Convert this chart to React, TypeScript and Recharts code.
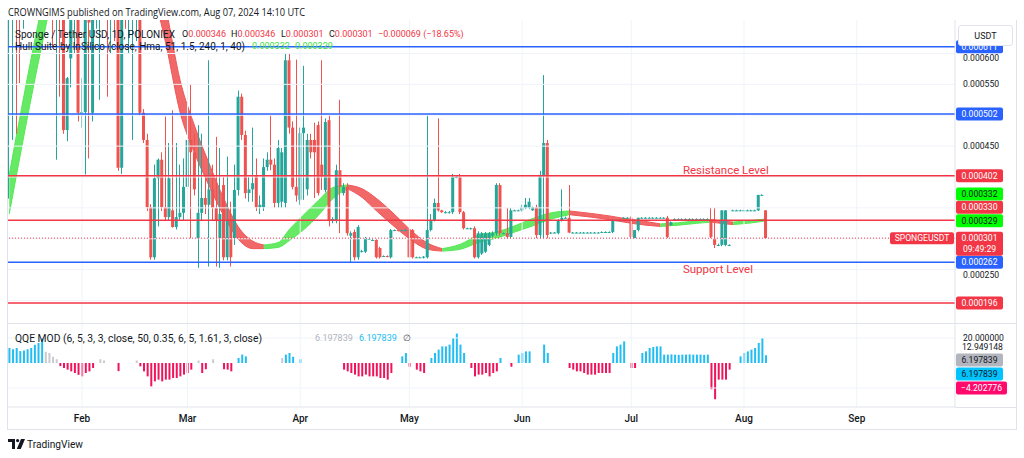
import React from 'react';
import { ComposedChart, Bar, Area, XAxis, YAxis, ReferenceLine, ReferenceDot, Cell } from 'recharts';

// day index counted from Jan 1 2024 (= 0); first candle on screen is Jan 11
const firstDay = 11;

// daily candles in micro-USDT: [open, high, low, close]
const ohlc: number[][] = [
  // Jan 11 - 20
  [690, 720, 365, 700], [700, 730, 460, 715], [715, 725, 470, 690], [690, 700, 552, 670], [670, 700, 640, 690],
  [690, 760, 660, 740], [740, 790, 700, 770], [770, 820, 730, 800], [800, 830, 740, 760], [760, 800, 700, 780],
  // Jan 21 - 30
  [780, 800, 690, 720], [720, 760, 660, 740], [740, 760, 610, 700], [700, 740, 428, 720], [720, 740, 530, 690],
  [690, 700, 470, 476], [476, 562, 458, 560], [592, 720, 545, 690], [690, 720, 600, 700], [700, 720, 490, 504],
  // Jan 31 - Feb 9
  [504, 560, 480, 505], [505, 720, 404, 700], [690, 720, 430, 650], [504, 720, 490, 700], [700, 740, 640, 720],
  [680, 720, 525, 700], [700, 740, 660, 690], [690, 720, 530, 660], [660, 720, 600, 700], [700, 740, 620, 690],
  // Feb 10 - 19
  [690, 720, 410, 415], [415, 720, 405, 700], [700, 730, 640, 680], [680, 720, 600, 700], [680, 720, 460, 700],
  [700, 730, 620, 710], [710, 720, 500, 504], [504, 510, 455, 460], [460, 470, 345, 351], [351, 356, 266, 270],
  // Feb 20 - 29
  [270, 420, 266, 398], [398, 430, 320, 428], [428, 440, 345, 351], [351, 498, 330, 335], [335, 455, 330, 398],
  [346, 508, 318, 319], [319, 455, 315, 335], [335, 420, 330, 342], [342, 430, 330, 384], [384, 557, 340, 460],
  // Mar 1 - 10
  [460, 550, 300, 440], [440, 470, 370, 380], [300, 484, 253, 342], [342, 470, 330, 366], [366, 400, 340, 355],
  [355, 589, 255, 380], [380, 420, 330, 350], [350, 465, 255, 330], [300, 447, 253, 340], [387, 400, 265, 270],
  // Mar 11 - 20
  [270, 433, 265, 330], [330, 360, 255, 270], [301, 420, 290, 379], [379, 540, 370, 530], [530, 535, 460, 468],
  [468, 475, 365, 374], [374, 400, 360, 380], [380, 480, 360, 390], [403, 430, 345, 351], [351, 370, 340, 355],
  // Mar 21 - 30
  [351, 430, 345, 416], [416, 440, 410, 428], [428, 500, 411, 420], [420, 430, 350, 358], [358, 460, 350, 447],
  [360, 447, 350, 440], [358, 600, 350, 589], [589, 600, 470, 480], [480, 490, 380, 384], [384, 590, 360, 370],
  // Mar 31 - Apr 9
  [363, 480, 355, 471], [471, 580, 363, 480], [380, 470, 370, 460], [460, 470, 430, 440], [460, 488, 366, 440],
  [484, 490, 370, 374], [420, 589, 379, 400], [379, 495, 375, 489], [492, 500, 320, 330], [330, 335, 325, 332],
  // Apr 10 - 19
  [330, 420, 325, 411], [411, 525, 309, 384], [374, 390, 370, 384], [384, 390, 305, 309], [305, 312, 261, 309],
  [311, 315, 265, 270], [270, 322, 266, 319], [279, 282, 278, 280], [279, 303, 277, 301], [300, 302, 299, 300],
  // Apr 20 - 29
  [298, 300, 297, 298], [298, 300, 268, 270], [285, 287, 268, 270], [272, 273, 271, 272], [272, 273, 270, 271],
  [270, 316, 268, 314], [314, 315, 313, 314], [314, 315, 312, 313], [313, 315, 312, 314], [314, 316, 312, 314],
  // Apr 30 - May 9
  [314, 316, 268, 270], [314, 316, 268, 270], [270, 271, 269, 270], [270, 271, 269, 270], [270, 272, 268, 271],
  [270, 500, 268, 314], [314, 340, 312, 330], [330, 365, 328, 358], [358, 495, 344, 346], [346, 347, 342, 343],
  // May 10 - 19
  [343, 345, 341, 343], [343, 345, 341, 343], [343, 405, 340, 400], [400, 402, 398, 400], [400, 405, 340, 343],
  [343, 345, 315, 317], [317, 318, 316, 317], [317, 318, 315, 317], [317, 320, 268, 270], [270, 312, 268, 309],
  // May 20 - 29
  [276, 311, 274, 309], [279, 311, 277, 309], [290, 311, 288, 309], [305, 312, 303, 309], [309, 390, 305, 387],
  [387, 390, 305, 309], [309, 310, 308, 309], [309, 350, 300, 303], [303, 350, 300, 346], [346, 347, 345, 346],
  // May 30 - Jun 8
  [346, 347, 345, 346], [346, 355, 344, 351], [350, 366, 348, 355], [350, 366, 348, 360], [346, 352, 345, 351],
  [351, 355, 300, 306], [306, 410, 300, 403], [403, 565, 300, 455], [455, 460, 300, 306], [309, 311, 308, 310],
  // Jun 9 - 18
  [310, 311, 309, 310], [309, 332, 307, 330], [330, 380, 328, 334], [334, 336, 333, 334], [334, 387, 309, 310],
  [310, 311, 309, 310], [310, 311, 309, 310], [310, 311, 309, 310], [310, 311, 309, 310], [310, 311, 309, 310],
  // Jun 19 - 28
  [310, 311, 309, 310], [310, 311, 309, 310], [310, 311, 309, 310], [311, 312, 310, 311], [311, 312, 310, 311],
  [311, 312, 310, 311], [311, 332, 309, 330], [330, 331, 329, 330], [330, 331, 329, 330], [334, 335, 333, 334],
  // Jun 29 - Jul 8
  [334, 335, 333, 334], [334, 336, 301, 303], [301, 314, 300, 314], [314, 334, 312, 334], [334, 335, 333, 334],
  [334, 335, 333, 334], [334, 335, 333, 334], [334, 335, 333, 334], [334, 335, 333, 334], [334, 335, 333, 334],
  // Jul 9 - 18
  [334, 335, 333, 334], [334, 337, 301, 303], [322, 328, 321, 327], [332, 333, 331, 332], [332, 333, 331, 332],
  [332, 333, 331, 332], [332, 333, 331, 332], [332, 333, 331, 332], [332, 333, 331, 332], [332, 333, 331, 332],
  // Jul 19 - 28
  [332, 333, 331, 332], [332, 333, 331, 332], [332, 333, 331, 332], [330, 350, 301, 303], [301, 350, 285, 290],
  [290, 292, 288, 290], [290, 346, 288, 346], [290, 346, 288, 346], [290, 291, 289, 290], [346, 347, 345, 346],
  // Jul 29 - Aug 7
  [346, 347, 345, 346], [346, 347, 345, 346], [346, 347, 345, 346], [346, 347, 345, 346], [346, 347, 345, 346],
  [346, 347, 345, 346], [346, 371, 345, 371], [371, 372, 370, 371], [346, 346, 301, 301],
];

// QQE MOD histogram, one value per day (null = no visible bar)
const qqeValues: (number | null)[] = [
  12, 11, 12, 9.5, 10, 11, 12, 14.5, 16, 20,
  9, 8, 5, 3, -2.5, -4, -5.3, -6.7, -8, -9.5,
  -10.7, -8, -6.7, -4, null, 3, 2, null, null, null,
  -6.5, null, null, null, null, 2, -2.7, -6.7, -10.7, -18.7,
  -14.7, -13.3, -14.7, -13.3, -13.3, -12, -12, -10.7, -9.3, -8,
  -5.3, null, 2, -8, -5, null, 3, null, null, -5,
  -5.3, -6.7, null, 4, 6.7, 5.3, null, null, null, null,
  null, null, null, null, null, 4, 6.7, 8, 5, null,
  3, null, null, null, null, null, null, null, null, null,
  null, null, -5.3, -6.7, -8, -9.3, -10.7, -10.7, -9.3, -10.7,
  -10.7, -10.7, -12, -12, -13.3, -8, null, null, 5.3, 8,
  -3, null, -5.3, -6.7, -8, null, 4, 8, 10.7, 13.3,
  13.3, 14.7, 20, 23.5, 14.7, 8, null, -4, -10.7, -9.3,
  -9.3, -8, -10.7, -8, -6.7, 4, null, null, -3, null,
  6.7, 8, 9.3, 9.3, null, null, null, 14.7, 8, null,
  null, null, null, null, -4, -5.3, -6.7, -6.7, -8, -9.3,
  -9.3, -9.3, -8, -8, -8, -8, 8, 13.3, 14.7, 17.3,
  null, -4, -4, null, 8, 9.3, 12, 12.8, 13.3, 13.3,
  6.7, 6.7, 6.9, 6.7, 6.5, 6.7, 6.7, 6.9, 6.7, 6.7,
  6.7, 6.5, 6.7, -21, -29, -13.3, -13.3, -13.3, -5.3, null,
  null, 5.3, 8, 9.3, 10.7, 12, 16, 20, 6.2,
];

// b = above threshold (blue), r = below (pink), g = neutral (gray)
const qqeTones = [
  'bbbbbbbbbb', 'ggggrrrrrr', 'rrrr.gg...', 'r....grrrr', 'rrrrrrrrrr',
  'r.grr.g..r', 'rr.bbb....', '.....gbbb.', 'b.........', '..rrrrrrrr',
  'rrrrrr..bb', 'r.rrr.bbbb', 'bbbbbb.rrr', 'rrrrrb..r.', 'bbbb...bb.',
  '....rrrrrr', 'rrrrrrbbbb', '.rr.bbbbbb', 'bbbbbbbbbb', 'bbbrrrrrr.',
  '.bbbbbbbb',
].join('');

// Hull Suite ribbon (HMA and HMA[2]) read at knot days, micro-USDT
const hullDays = [11, 20, 28, 36, 44, 54, 58, 62, 66, 70, 74, 78, 81, 85, 88, 92, 96, 100, 104, 108, 112, 117, 121, 126, 130, 135, 140, 145, 150, 155, 160, 165, 171, 176, 181, 186, 190, 195, 200, 204, 208, 210, 214, 219];
const hullLow = [340, 614, 820, 875, 820, 617, 504, 438, 385, 337, 299, 284, 284, 286, 297, 315, 338, 365, 381, 367, 345, 319, 300, 283, 280, 283, 294, 301, 311, 321, 332, 339, 335, 331, 326, 322, 320, 322, 325, 327, 324, 323, 325, 329];
const hullHigh = [404, 678, 880, 925, 880, 675, 556, 482, 421, 365, 319, 296, 290, 294, 315, 339, 362, 383, 387, 381, 365, 339, 316, 293, 284, 291, 306, 311, 321, 333, 342, 345, 341, 337, 332, 328, 324, 326, 329, 331, 328, 327, 329, 332];

const monthDays = [31, 60, 91, 121, 152, 182, 213, 244];
const monthNames = ['Feb', 'Mar', 'Apr', 'May', 'Jun', 'Jul', 'Aug', 'Sep'];
const priceTicks = [0.0006, 0.00055, 0.0005, 0.00045, 0.0004, 0.00035, 0.0003, 0.00025, 0.0002];
// tick labels that sit under a price tag are not drawn; two peek out below their tags
const hiddenTicks = [0.0005, 0.0004, 0.00035, 0.0003, 0.0002];
const peekTicks = [0.0006, 0.00025];

// horizontal levels drawn on the chart
const levelPrices = [0.000611, 0.000502, 0.000402, 0.00033, 0.000262, 0.000196];
const levelColors = ['#2962ff', '#2962ff', '#f23645', '#f23645', '#2962ff', '#f23645'];
const levelTagShift = [0, 0, 0, -13, 0, 0];

const hullLast = [0.000332, 0.000329];
const lastPrice = 0.000301;
const resistanceAnchor = [196.2, 0.000411];
const supportAnchor = [196.2, 0.000251];

const qqeLast = 6.197839;
const qqeSignal = -4.202776;
const qqeUpper = 12.949148;

const VIEW: [number, number] = [10.66, 271];
const UP = '#26a69a';
const DOWN = '#ef5350';
const GRID = '#f0f3fa';
const BORDER = '#e0e3eb';
const INK = '#131722';
const TONE: Record<string, string> = { b: '#22bdf2', r: '#f0145c', g: '#c9cacf' };

const candleRows = ohlc.map(([o, h, l, c], i) => ({
  day: firstDay + i,
  open: o / 1e6,
  high: h / 1e6,
  low: l / 1e6,
  close: c / 1e6,
  range: [l / 1e6, h / 1e6],
}));

const qqeRows = qqeValues.map((v, i) => ({ day: firstDay + i, qqe: v, tone: qqeTones[i] }));

const hullSegments = (() => {
  const segs: { up: boolean; rows: { day: number; band: number[] }[] }[] = [];
  const row = (i: number) => ({ day: hullDays[i], band: [hullLow[i] / 1e6, hullHigh[i] / 1e6] });
  for (let i = 1; i < hullDays.length; i++) {
    const up = hullLow[i] + hullHigh[i] > hullLow[i - 1] + hullHigh[i - 1];
    const last = segs[segs.length - 1];
    if (last && last.up === up) last.rows.push(row(i));
    else segs.push({ up, rows: [row(i - 1), row(i)] });
  }
  return segs;
})();

const Candle = (props: any) => {
  const { x, y, width, height, payload } = props;
  if (!payload || x == null || y == null) return null;
  const top = Math.min(y, y + height);
  const h = Math.abs(height);
  const span = payload.high - payload.low || 1e-9;
  const px = (v: number) => top + ((payload.high - v) / span) * h;
  const color = payload.close >= payload.open ? UP : DOWN;
  const cx = Math.floor(x + width / 2) + 0.5;
  const b1 = px(Math.max(payload.open, payload.close));
  const b2 = px(Math.min(payload.open, payload.close));
  return (
    <g>
      <line x1={cx} x2={cx} y1={top} y2={top + h} stroke={color} strokeWidth={1} />
      <rect x={x} y={b1} width={width} height={Math.max(1, b2 - b1)} fill={color} />
    </g>
  );
};

const PriceTick = (props: any) => {
  const v = props.payload?.value;
  if (v == null || hiddenTicks.some((t) => Math.abs(t - v) < 1e-9)) return null;
  const shift = peekTicks.some((t) => Math.abs(t - v) < 1e-9) ? 5 : 0;
  return (
    <text x={props.x} y={props.y + shift} dy="0.35em" fontSize={8.6} fill={INK}>
      {v.toFixed(6)}
    </text>
  );
};

const tag = (text: string, bg: string, fg: string, dy = 0, w = 47, second?: string) => (props: any) => {
  const vb = props.viewBox;
  if (!vb) return null;
  const x = vb.x + vb.width + 1;
  const cy = vb.y + dy;
  return (
    <g>
      <rect x={x} y={cy - 6.5} width={w} height={second ? 24 : 13} rx={2} fill={bg} />
      <text x={x + w / 2} y={cy} dy="0.35em" textAnchor="middle" fontSize={8.6} fill={fg}>{text}</text>
      {second && (
        <text x={x + w / 2} y={cy + 11} dy="0.35em" textAnchor="middle" fontSize={8.6} fill={fg}>{second}</text>
      )}
    </g>
  );
};

const symbolTag = (props: any) => {
  const vb = props.viewBox;
  if (!vb) return null;
  const x = vb.x + vb.width - 65;
  return (
    <g>
      <rect x={x} y={vb.y - 6} width={64} height={12} rx={2} fill="#f23645" />
      <text x={x + 32} y={vb.y} dy="0.35em" textAnchor="middle" fontSize={8.6} fill="#fff">SPONGEUSDT</text>
    </g>
  );
};

const plainText = (text: string) => (props: any) => {
  const vb = props.viewBox;
  if (!vb) return null;
  return (
    <text x={vb.x + vb.width + 7} y={vb.y} dy="0.35em" fontSize={8.6} fill={INK}>{text}</text>
  );
};

const drawingText = (text: string) => (props: any) => {
  const vb = props.viewBox;
  if (!vb) return null;
  return (
    <text x={vb.x + vb.width / 2} y={vb.y + vb.height / 2} dy="0.35em" fontSize={11.5} fill="#f23645">{text}</text>
  );
};

const RED = '#f23645';

export default function App() {
  return (
    <div style={{ position: 'absolute', left: 0, top: 0, width: 1024, height: 458, background: '#fff', overflow: 'hidden', fontFamily: 'Roboto, sans-serif' }}>
      <div style={{ position: 'absolute', left: 8, top: 20 }}>
        <ComposedChart width={1008} height={303} data={candleRows} margin={{ top: 0, right: 0, bottom: 0, left: 0 }}>
          <XAxis dataKey="day" type="number" domain={VIEW} allowDataOverflow hide />
          <YAxis
            orientation="right"
            width={61}
            domain={[0.0001636, 0.0006542]}
            allowDataOverflow
            ticks={priceTicks}
            tick={PriceTick}
            tickLine={false}
            axisLine={{ stroke: BORDER }}
          />
          {priceTicks.map((t) => (
            <ReferenceLine key={'h' + t} y={t} stroke={GRID} />
          ))}
          {monthDays.map((d) => (
            <ReferenceLine key={'v' + d} x={d} stroke={GRID} />
          ))}
          <Bar dataKey="range" barSize={3} shape={Candle} isAnimationActive={false} />
          {hullSegments.map((s, i) => (
            <Area
              key={'hull' + i}
              data={s.rows}
              dataKey="band"
              type="monotone"
              fill={s.up ? '#55e855' : '#f05858'}
              fillOpacity={0.9}
              stroke={s.up ? '#55e855' : '#f05858'}
              strokeWidth={1}
              isAnimationActive={false}
            />
          ))}
          <ReferenceLine y={lastPrice} stroke={RED} strokeDasharray="1 2" label={symbolTag} />
          {levelPrices.map((p, i) => (
            <ReferenceLine
              key={'lvl' + p}
              y={p}
              stroke={levelColors[i]}
              strokeWidth={1.6}
              label={tag(p.toFixed(6), levelColors[i], '#fff', levelTagShift[i])}
            />
          ))}
          <ReferenceLine y={hullLast[0]} stroke="none" label={tag(hullLast[0].toFixed(6), '#00ff00', INK, -25)} />
          <ReferenceLine y={hullLast[1]} stroke="none" label={tag(hullLast[1].toFixed(6), '#00ff00', INK, 0)} />
          <ReferenceLine y={lastPrice} stroke="none" label={tag(lastPrice.toFixed(6), RED, '#fff', 0, 47, '09:49:29')} />
          <ReferenceDot x={resistanceAnchor[0]} y={resistanceAnchor[1]} r={1} fill="none" stroke="none" label={drawingText('Resistance Level')} />
          <ReferenceDot x={supportAnchor[0]} y={supportAnchor[1]} r={1} fill="none" stroke="none" label={drawingText('Support Level')} />
        </ComposedChart>
      </div>

      <div style={{ position: 'absolute', left: 8, top: 324 }}>
        <ComposedChart width={1008} height={106} data={qqeRows} margin={{ top: 0, right: 0, bottom: 0, left: 0 }}>
          <XAxis
            dataKey="day"
            type="number"
            domain={VIEW}
            allowDataOverflow
            ticks={monthDays}
            interval={0}
            tickFormatter={(d: number) => monthNames[monthDays.indexOf(d)]}
            tick={{ fontSize: 10, fill: INK, fontWeight: 500 }}
            tickLine={false}
            axisLine={{ stroke: BORDER }}
            height={23}
          />
          <YAxis
            orientation="right"
            width={61}
            domain={[-35.2, 31.2]}
            allowDataOverflow
            ticks={[20]}
            tickFormatter={(v: number) => v.toFixed(6)}
            tick={{ fontSize: 8.6, fill: INK }}
            tickLine={false}
            axisLine={{ stroke: BORDER }}
          />
          {monthDays.map((d) => (
            <ReferenceLine key={'qv' + d} x={d} stroke={GRID} />
          ))}
          <ReferenceLine y={20} stroke={GRID} />
          <ReferenceLine y={-20} stroke={GRID} />
          <Bar dataKey="qqe" barSize={2} isAnimationActive={false}>
            {qqeRows.map((r) => (
              <Cell key={'c' + r.day} fill={TONE[r.tone] || 'transparent'} />
            ))}
          </Bar>
          <ReferenceLine y={qqeUpper} stroke="none" label={plainText(qqeUpper.toFixed(6))} />
          <ReferenceLine y={qqeLast} stroke="none" label={tag(qqeLast.toFixed(6), '#b2b5be', INK, 4.75)} />
          <ReferenceLine y={qqeLast} stroke="none" label={tag(qqeLast.toFixed(6), '#00c3ff', INK, 18.75)} />
          <ReferenceLine y={qqeSignal} stroke="none" label={tag('\u2212' + Math.abs(qqeSignal).toFixed(6), '#ff0a6c', '#fff', 19.75, 51)} />
        </ComposedChart>
      </div>

      {/* pane borders */}
      <div style={{ position: 'absolute', left: 7, top: 20, width: 1008, height: 409, borderLeft: `1px solid ${BORDER}`, borderRight: `1px solid ${BORDER}`, borderBottom: `1px solid ${BORDER}` }} />
      <div style={{ position: 'absolute', left: 8, top: 323, width: 1008, height: 1, background: BORDER }} />
      <div style={{ position: 'absolute', left: 955, top: 407, width: 61, height: 1, background: BORDER }} />

      <div style={{ position: 'absolute', left: 958, top: 25, width: 53, height: 19, border: `1px solid ${BORDER}`, borderRadius: 3, background: '#fff', fontSize: 9, color: INK, display: 'flex', alignItems: 'center', justifyContent: 'center' }}>
        USDT
      </div>

      {/* header, legends and branding */}
      <svg width={1024} height={458} style={{ position: 'absolute', left: 0, top: 0, pointerEvents: 'none' }}>
        <text x={8} y={12} dy="0.35em" fontSize={10} fill={INK} fontFamily='"Open Sans", sans-serif' textLength={297} lengthAdjust="spacingAndGlyphs">
          CROWNGIMS published on TradingView.com, Aug 07, 2024 14:10 UTC
        </text>

        <text x={15} y={34} dy="0.35em" fontSize={10} fill={INK} textLength={160} lengthAdjust="spacingAndGlyphs">
          Sponge / Tether USD, 1D, POLONIEX
        </text>
        {[
          ['O', '0.000346', 182],
          ['H', '0.000346', 231],
          ['L', '0.000301', 281],
          ['C', '0.000301', 329],
        ].map(([k, v, x]) => (
          <text key={k as string} x={x as number} y={34} dy="0.35em" fontSize={9}>
            <tspan fill={INK}>{k}</tspan>
            <tspan fill={RED}>{v}</tspan>
          </text>
        ))}
        <text x={378} y={34} dy="0.35em" fontSize={9} fill={RED}>{'\u22120.000069 (\u221218.65%)'}</text>

        <text x={15} y={46} dy="0.35em" fontSize={10} fill={INK} textLength={230} lengthAdjust="spacingAndGlyphs">
          Hull Suite by InSilico (close, Hma, 51, 1.5, 240, 1, 40)
        </text>
        <text x={252} y={46} dy="0.35em" fontSize={9} fill="#3ee03e">0.000332</text>
        <text x={295} y={46} dy="0.35em" fontSize={9} fill="#3ee03e">0.000329</text>

        <text x={15} y={338} dy="0.35em" fontSize={10} fill={INK} textLength={247} lengthAdjust="spacingAndGlyphs">
          QQE MOD (6, 5, 3, 3, close, 50, 0.35, 6, 5, 1.61, 3, close)
        </text>
        <text x={315} y={338} dy="0.35em" fontSize={9} fill="#b2b5be">6.197839</text>
        <text x={359} y={338} dy="0.35em" fontSize={9} fill="#22bdf2">6.197839</text>
        <text x={403} y={338} dy="0.35em" fontSize={9} fill="#555">{'\u2205'}</text>

        <g transform="translate(8,439)" fill={INK}>
          <path d="M0 0h7v10H4V3H0z" />
          <circle cx={9.6} cy={1.6} r={1.6} />
          <path d="M13 0h4l-4.2 10H8.8z" />
        </g>
        <text x={27} y={444} dy="0.35em" fontSize={10.5} fill={INK} textLength={56} lengthAdjust="spacingAndGlyphs">
          TradingView
        </text>
      </svg>
    </div>
  );
}
